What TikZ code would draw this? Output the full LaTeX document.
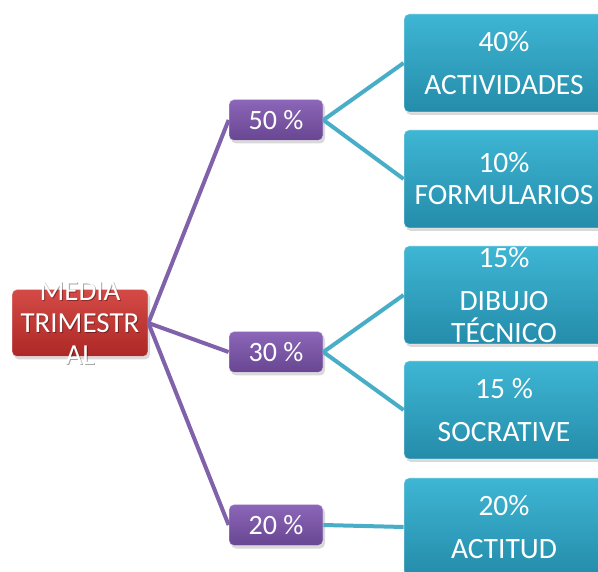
\documentclass[tikz,border=0pt]{standalone}
\usepackage{fontspec}
\setmainfont{Carlito}
\usetikzlibrary{shadows}
\definecolor{redtop}{RGB}{212,74,70}
\definecolor{redbot}{RGB}{172,40,38}
\definecolor{purptop}{RGB}{140,102,184}
\definecolor{purpbot}{RGB}{104,70,146}
\definecolor{tealtop}{RGB}{62,182,212}
\definecolor{tealbot}{RGB}{36,140,170}
\definecolor{purpline}{RGB}{128,98,170}
\definecolor{tealline}{RGB}{72,174,200}
\begin{document}
\begin{tikzpicture}[x=1pt,y=-1pt,
  box/.style={rounded corners=5pt, draw=white, draw opacity=0.45, line width=0.8pt,
    text=white, inner sep=0pt, align=center,
    drop shadow={opacity=0.3, shadow xshift=2pt, shadow yshift=-3pt}},
  rootbox/.style={box, top color=redtop, bottom color=redbot,
    minimum width=136pt, minimum height=67pt},
  roottext/.style={text=white, align=center, inner sep=0pt,
    font=\fontsize{29}{32}\selectfont},
  rootshade/.style={roottext, text=black, text opacity=0.35},
  pbox/.style={box, top color=purptop, bottom color=purpbot,
    minimum width=94pt, minimum height=41pt, font=\fontsize{28}{30}\selectfont},
  abox/.style={box, top color=tealtop, bottom color=tealbot,
    minimum width=200pt, minimum height=98pt, font=\fontsize{29.5}{43}\selectfont},
  plink/.style={draw=purpline, line width=4pt},
  alink/.style={draw=tealline, line width=4pt}]
\useasboundingbox (0,0) rectangle (598,572);
\clip (0,0) rectangle (598,572);

% root
\node[rootbox] (media) at (80,323) {};
\node[rootshade] at ([shift={(1,1)}]media) {MEDIA\\TRIMESTR\\AL};
\node[roottext] (media-t) at (media) {MEDIA\\TRIMESTR\\AL};

% percentages
\node[pbox] (p50) at (276,120) {50 \%};
\node[pbox] (p30) at (276,352) {30 \%};
\node[pbox] (p20) at (276,525) {20 \%};

% items
\node[abox] (act) at (504,63) {40\%\\ACTIVIDADES};
\node[abox] (form) at (504,179) {10\%\\[-11pt]FORMULARIOS};
\node[abox] (dib) at (504,295) {15\%\\DIBUJO\\[-11pt]TÉCNICO};
\node[abox] (soc) at (504,410) {15 \%\\SOCRATIVE};
\node[abox] (acti) at (504,527) {20\%\\ACTITUD};

\draw[plink] (media.east) -- (p50.west);
\draw[plink] (media.east) -- (p30.west);
\draw[plink] (media.east) -- (p20.west);

\draw[alink] (p50.east) -- (act.west);
\draw[alink] (p50.east) -- (form.west);
\draw[alink] (p30.east) -- (dib.west);
\draw[alink] (p30.east) -- (soc.west);
\draw[alink] (p20.east) -- (acti.west);
\end{tikzpicture}
\end{document}
